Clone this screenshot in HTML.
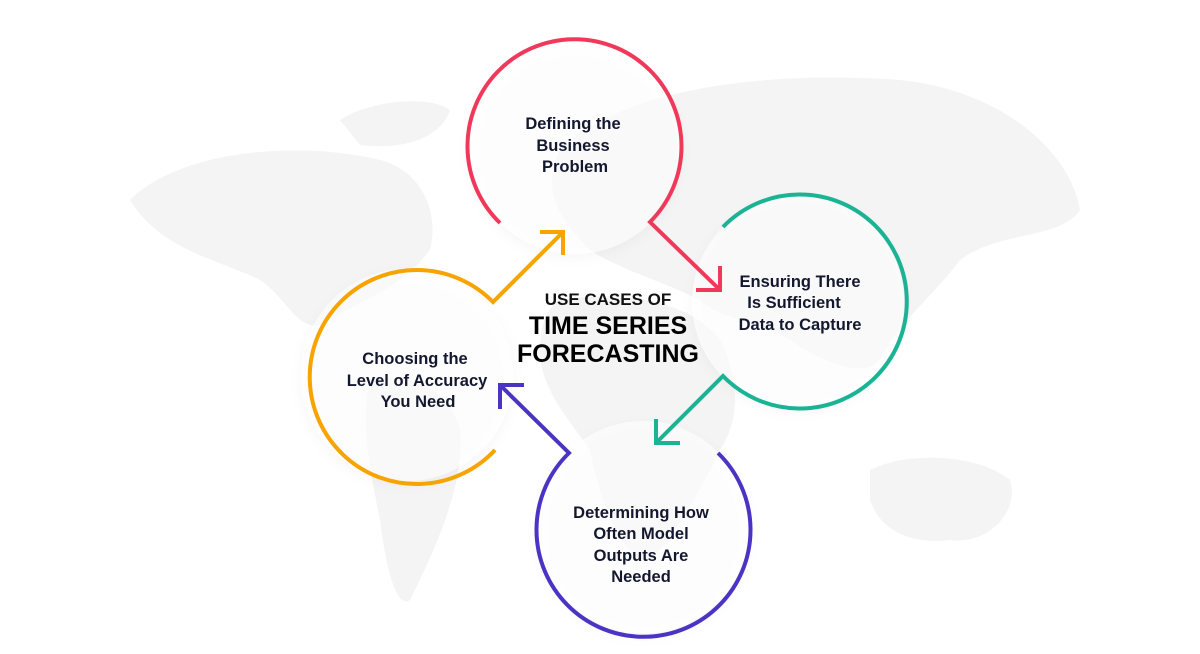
<!DOCTYPE html>
<html><head><meta charset="utf-8"><style>
html,body{margin:0;padding:0;background:#fff;}
svg{display:block}
text{font-family:"Liberation Sans",sans-serif;font-weight:bold;fill:#14182f;}
</style></head><body>
<svg width="1200" height="654" viewBox="0 0 1200 654" xmlns="http://www.w3.org/2000/svg">
<defs>
<filter id="sh" x="-20%" y="-20%" width="140%" height="140%"><feDropShadow dx="0" dy="4" stdDeviation="6" flood-color="#000" flood-opacity="0.06"/></filter>
</defs>
<g fill="#f4f4f4">
<path d="M130 200 C180 150 300 140 380 160 C420 170 440 210 430 250 C400 290 360 300 330 320 C300 340 290 300 260 280 C220 260 160 250 130 200Z"/>
<path d="M340 120 C370 100 430 95 450 110 C440 140 400 150 360 145Z"/>
<path d="M370 380 C410 370 450 390 460 430 C465 480 440 540 410 600 C395 610 385 560 380 520 C370 470 360 420 370 380Z"/>
<path d="M560 150 C620 90 760 70 900 80 C1000 90 1070 150 1080 210 C1060 240 1000 230 960 260 C930 300 900 320 880 360 C860 380 820 360 790 340 C760 320 720 320 700 300 C660 280 620 270 590 250 C560 220 540 190 560 150Z"/>
<path d="M560 300 C620 290 690 300 720 340 C740 380 740 420 720 450 C700 490 680 530 650 560 C620 560 600 500 590 450 C570 420 540 390 540 350 C540 320 550 305 560 300Z"/>
<path d="M870 470 C910 450 980 455 1010 480 C1020 510 990 545 950 540 C910 545 880 530 870 500Z"/>
</g>
<g fill="#fff" fill-opacity="0.6" filter="url(#sh)">
<circle cx="575" cy="148" r="106"/>
<circle cx="798" cy="302" r="106"/>
<circle cx="643" cy="527" r="106"/>
<circle cx="407" cy="375" r="106"/>
</g>
<g fill="none" stroke-width="4" stroke-linecap="butt" stroke-linejoin="miter">
<path d="M500 223 A107 107 0 1 1 650 222 L720 290 M696 290 L720 290 L720 266" stroke="#f0395a"/>
<path d="M723 227 A107 107 0 1 1 723 376 L656 443 M656 419 L656 443 L680 443" stroke="#1ab394"/>
<path d="M718 453 A107 107 0 1 1 569 453 L500 385 M524 385 L500 385 L500 409" stroke="#4b34c4"/>
<path d="M495 450 A107 107 0 1 1 493 302 L563 232 M540 232 L563 232 L563 255" stroke="#f7a300"/>
</g>
<g font-size="16.5" text-anchor="middle">
<text x="573" y="129">Defining the</text>
<text x="573" y="151">Business</text>
<text x="575" y="172">Problem</text>
<text x="800" y="287">Ensuring There</text>
<text x="794" y="308">Is Sufficient</text>
<text x="800" y="330">Data to Capture</text>
<text x="415" y="364">Choosing the</text>
<text x="417" y="386">Level of Accuracy</text>
<text x="418" y="407">You Need</text>
<text x="641" y="518">Determining How</text>
<text x="641" y="539">Often Model</text>
<text x="641" y="561">Outputs Are</text>
<text x="641" y="582">Needed</text>
</g>
<text x="608" y="305" font-size="17" text-anchor="middle" style="fill:#111">USE CASES OF</text>
<text x="608" y="334" font-size="25" text-anchor="middle" style="fill:#000;font-weight:900">TIME SERIES</text>
<text x="608" y="362" font-size="25" text-anchor="middle" style="fill:#000;font-weight:900">FORECASTING</text>
</svg>
</body></html>
